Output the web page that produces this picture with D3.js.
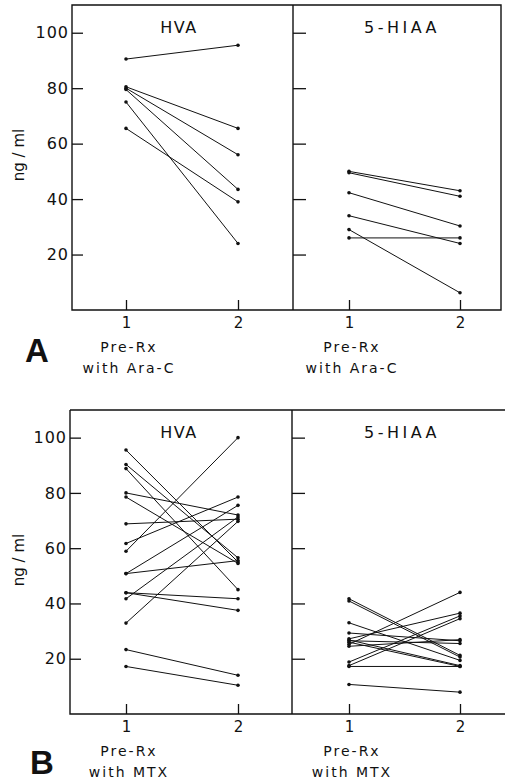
<!DOCTYPE html>
<html>
<head>
<meta charset="utf-8">
<script src="https://cdn.jsdelivr.net/npm/d3@7"></script>
<style>
  body { margin: 0; background: #fff; }
  svg { display: block; font-family: "DejaVu Sans", sans-serif; }
</style>
</head>
<body>
<div id="chart"></div>
<script>
const xValues = [1, 2]
const yTicks = [20, 40, 60, 80, 100]
const compounds = ["HVA", "5-HIAA"]
const subLabelA = ["Pre-Rx", "with Ara-C"]
const subLabelB = ["Pre-Rx", "with MTX"]

// A: before / with Ara-C
const hvaPreA = [90.5, 80.5, 80, 79.5, 75, 65.5]
const hvaPostA = [95.5, 65.5, 56, 43.5, 24, 39]
const hiaaPreA = [50, 49.5, 42.3, 34, 29, 26]
const hiaaPostA = [43, 41, 30.3, 24, 6.2, 26]

// B: before / with MTX
const hvaPreB = [95.5, 90.3, 88.8, 80, 78.5, 68.8, 61.7, 58.9, 50.8, 50.8, 43.9, 43.9, 41.7, 32.9, 23.3, 17.2]
const hvaPostB = [55, 56.5, 45, 72, 54.5, 70.5, 78.5, 100, 75.5, 55.5, 41.7, 37.5, 71.3, 69.7, 14, 10.4]
const hiaaPreB = [41.7, 40.9, 33, 29.3, 27.2, 26.8, 26.5, 26, 25.2, 24.5, 18.8, 17.5, 17.2, 10.7]
const hiaaPostB = [21.2, 20.6, 19.4, 26.5, 36.5, 17.5, 25.5, 17.2, 44, 26.9, 35.5, 34.5, 17.2, 7.9]

const width = 505
const height = 782
const ink = "#111"

const svg = d3
  .create("svg")
  .attr("viewBox", [0, 0, width, height])
  .attr("width", width)
  .attr("height", height)

const pairs = (pre, post) => pre.map((d, i) => [d, post[i]])

const drawPanel = ({ top, bottom, left, divider, right, closed, letter, letterX, sub, data }) => {
  const y = d3.scaleLinear().domain([0, 110]).range([bottom, top])
  const g = svg.append("g")

  // frame
  g.append("path")
    .attr("fill", "none")
    .attr("stroke", ink)
    .attr("stroke-width", 1.4)
    .attr(
      "d",
      closed
        ? `M${left},${top}H${right}V${bottom}H${left}Z M${divider},${top}V${bottom}`
        : `M${left},${top}H${right} M${left},${top}V${bottom}H${right} M${divider},${top}V${bottom}`
    )

  // y axis with labels
  g.append("g")
    .attr("transform", `translate(${left},0)`)
    .call(d3.axisLeft(y).tickValues(yTicks).tickSize(-11).tickPadding(3))
    .call(a => a.select(".domain").remove())
    .call(a => a.selectAll("line").attr("stroke", ink).attr("stroke-width", 1.3))
    .call(a => a.selectAll("text").attr("font-size", 16).attr("letter-spacing", 1).attr("fill", ink))
    .attr("font-family", null)

  // divider ticks
  g.append("g")
    .attr("transform", `translate(${divider},0)`)
    .call(d3.axisLeft(y).tickValues(yTicks).tickSize(-13).tickFormat(""))
    .call(a => a.select(".domain").remove())
    .call(a => a.selectAll("line").attr("stroke", ink).attr("stroke-width", 1.3))

  g.append("text")
    .attr("transform", `translate(24,${top + 150}) rotate(-90)`)
    .attr("text-anchor", "middle")
    .attr("font-size", 15)
    .attr("fill", ink)
    .text("ng / ml")

  g.append("text")
    .attr("x", letterX)
    .attr("y", bottom + 52 + (letter === "B" ? 8 : 0))
    .attr("font-family", "Liberation Sans, Arial, sans-serif")
    .attr("font-weight", "bold")
    .attr("font-size", 33)
    .attr("fill", ink)
    .text(letter)

  const subRanges = [[126, 238], [349, 460]]
  const titleX = [179, 402]

  compounds.forEach((name, k) => {
    const x = d3.scaleLinear().domain(xValues).range(subRanges[k])

    g.append("g")
      .attr("transform", `translate(0,${bottom})`)
      .call(d3.axisBottom(x).tickValues(xValues).tickSize(-10).tickPadding(7).tickFormat(d3.format("d")))
      .call(a => a.select(".domain").remove())
      .call(a => a.selectAll("line").attr("stroke", ink).attr("stroke-width", 1.3))
      .call(a => a.selectAll("text").attr("font-size", 15).attr("fill", ink))
      .attr("font-family", null)

    g.append("text")
      .attr("x", titleX[k])
      .attr("y", top + 28)
      .attr("text-anchor", "middle")
      .attr("font-size", 16)
      .attr("letter-spacing", k === 0 ? 1.5 : 3.5)
      .attr("fill", ink)
      .text(name)

    g.append("text")
      .attr("x", (subRanges[k][0] + 3))
      .attr("y", bottom + 42)
      .attr("text-anchor", "middle")
      .attr("font-size", 14)
      .attr("letter-spacing", 2)
      .attr("fill", ink)
      .call(t => t.append("tspan").attr("x", subRanges[k][0] + 3).text(sub[0]))
      .call(t => t.append("tspan").attr("x", subRanges[k][0] + 3).attr("dy", 20.5).text(sub[1]))

    const lines = data[k]
    const series = g.append("g")

    series
      .selectAll("line")
      .data(lines)
      .join("line")
      .attr("x1", x(1))
      .attr("x2", x(2))
      .attr("y1", d => y(d[0]))
      .attr("y2", d => y(d[1]))
      .attr("stroke", ink)
      .attr("stroke-width", 1)

    series
      .selectAll("circle")
      .data(lines.flatMap(d => [[1, d[0]], [2, d[1]]]))
      .join("circle")
      .attr("cx", d => x(d[0]))
      .attr("cy", d => y(d[1]))
      .attr("r", 1.8)
      .attr("fill", ink)
  })
}

drawPanel({
  top: 5,
  bottom: 310,
  left: 72,
  divider: 293,
  right: 501,
  closed: true,
  letter: "A",
  letterX: 25,
  sub: subLabelA,
  data: [pairs(hvaPreA, hvaPostA), pairs(hiaaPreA, hiaaPostA)]
})

drawPanel({
  top: 410,
  bottom: 714,
  left: 70,
  divider: 292,
  right: 505,
  closed: false,
  letter: "B",
  letterX: 30,
  sub: subLabelB,
  data: [pairs(hvaPreB, hvaPostB), pairs(hiaaPreB, hiaaPostB)]
})

document.querySelector("#chart").append(svg.node())
</script>
</body>
</html>
